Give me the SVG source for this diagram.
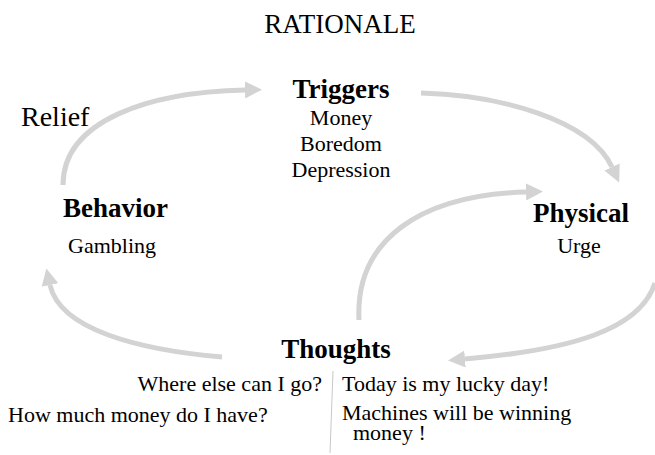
<svg xmlns="http://www.w3.org/2000/svg" width="655" height="455" viewBox="0 0 655 455">
<style>
text{font-family:"Liberation Serif","Times New Roman",serif;fill:#000}
.t{font-size:27px;font-weight:bold}
.s{font-size:22px}
.arr{fill:none;stroke:#d3d3d3;stroke-width:5;stroke-linecap:butt}
</style>
<defs>
<marker id="ah" viewBox="0 0 10 10" refX="0" refY="5" markerWidth="3.4" markerHeight="3.4" orient="auto">
<path d="M0,0 L10,5 L0,10 z" fill="#d3d3d3"/>
</marker>
</defs>
<rect width="655" height="455" fill="#fff"/>
<text x="340" y="33" text-anchor="middle" style="font-size:27px">RATIONALE</text>
<g id="connectors">
<path class="arr" marker-end="url(#ah)" d="M63,185 C63,120 150,92 245,90"/>
<path class="arr" marker-end="url(#ah)" d="M421,93 C500,95 590,120 612,167"/>
<path class="arr" marker-end="url(#ah)" d="M359,320 C355,240 420,195 526,192"/>
<path class="arr" marker-end="url(#ah)" d="M655,283 C640,330 570,350 465,359"/>
<path class="arr" marker-end="url(#ah)" d="M222,357 C140,350 60,330 50,285"/>
<line x1="333" y1="371" x2="330" y2="453" stroke="#c8c8c8" stroke-width="1"/>
</g>
<g id="relief"><text x="21" y="126" style="font-size:28px">Relief</text></g>
<g id="triggers">
<text class="t" x="341" y="98" text-anchor="middle">Triggers</text>
<text class="s" x="341" y="125" text-anchor="middle">Money</text>
<text class="s" x="341" y="151" text-anchor="middle">Boredom</text>
<text class="s" x="341" y="177" text-anchor="middle">Depression</text>
</g>
<g id="behavior">
<text class="t" x="63" y="217">Behavior</text>
<text class="s" x="68" y="253">Gambling</text>
</g>
<g id="physical">
<text class="t" x="581" y="222" text-anchor="middle">Physical</text>
<text class="s" x="579" y="253" text-anchor="middle">Urge</text>
</g>
<g id="thoughts">
<text class="t" x="336" y="358" text-anchor="middle">Thoughts</text>
<text class="s" x="322" y="391" text-anchor="end">Where else can I go?</text>
<text class="s" x="8" y="422">How much money do I have?</text>
<text class="s" x="342" y="391">Today is my lucky day!</text>
<text class="s" x="342" y="420">Machines will be winning</text>
<text class="s" x="353" y="440">money !</text>
</g>
</svg>
